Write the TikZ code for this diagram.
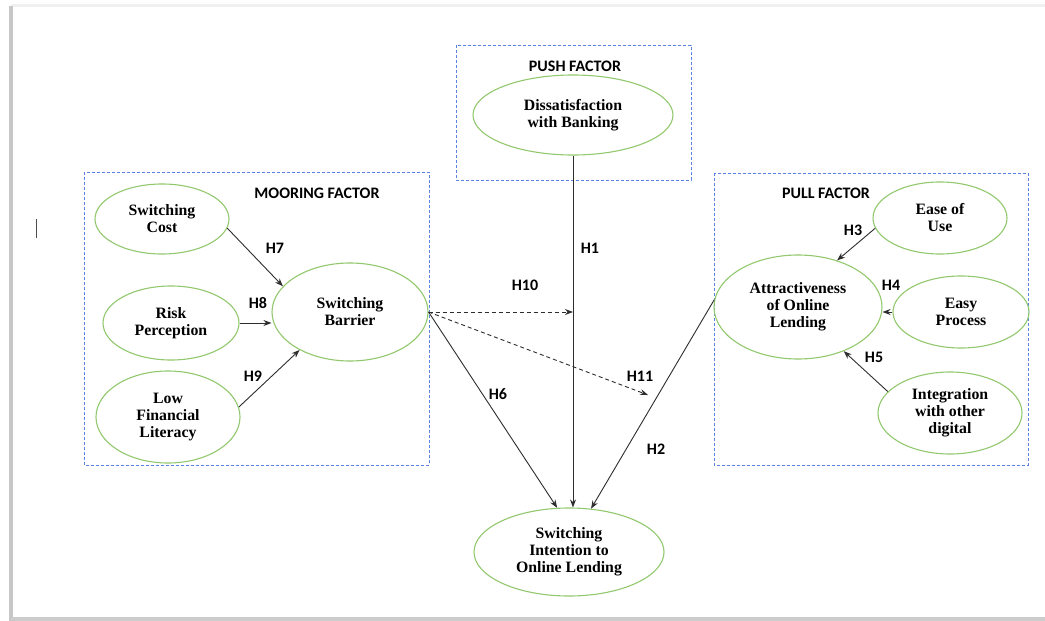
\documentclass[tikz,border=0pt]{standalone}
\usepackage{fontspec}
\setmainfont{Liberation Serif}
\newfontfamily\labfont{Carlito}
\usetikzlibrary{shapes.geometric,arrows.meta}
\definecolor{elgreen}{RGB}{146,200,110}
\definecolor{boxblue}{RGB}{90,130,225}
\definecolor{linegray}{RGB}{45,45,45}
\begin{document}
\begin{tikzpicture}[x=1pt,y=-1pt,
  construct/.style={ellipse,draw=elgreen,line width=1.1pt,inner sep=0pt,align=center,
    font=\fontsize{15.8}{17}\selectfont\bfseries},
  groupbox/.style={draw=boxblue,line width=0.8pt,dash pattern=on 3pt off 2pt},
  grouptitle/.style={font=\labfont\fontsize{16}{18}\selectfont\bfseries},
  hyp/.style={font=\labfont\fontsize{16}{18}\selectfont\bfseries,inner sep=1pt},
  link/.style={draw=linegray,line width=0.9pt,-{Stealth[length=8pt,width=6pt]}},
  dlink/.style={link,dash pattern=on 4pt off 3pt}]
\useasboundingbox (0,0) rectangle (1045,621);
\fill[white] (0,0) rectangle (1045,621);
% page shadow
\fill[black!6] (11,4) rectangle (1045,7);
\fill[black!22] (9,6) rectangle (13,621);
\fill[black!20] (11,617) rectangle (1045,621);
% cursor mark
\draw[black!70,line width=1pt] (36,219) -- (36,238);

% group boxes
\draw[groupbox] (84,172) rectangle (429,465);
\draw[groupbox] (456,45) rectangle (691,180);
\draw[groupbox] (714,173) rectangle (1028,465);
\node[grouptitle] (tmoor) at (317,193) {MOORING FACTOR};
\node[grouptitle] (tpush) at (575,66) {PUSH FACTOR};
\node[grouptitle] (tpull) at (826,193) {PULL FACTOR};

% constructs
\node[construct,minimum width=134pt,minimum height=70pt] (sc) at (162,219) {Switching\\Cost};
\node[construct,minimum width=136pt,minimum height=74pt] (rp) at (171,323) {Risk\\Perception};
\node[construct,minimum width=144pt,minimum height=92pt] (lfl) at (168,417) {Low\\Financial\\Literacy};
\node[construct,minimum width=156pt,minimum height=98pt] (sb) at (350,312) {Switching\\Barrier};
\node[construct,minimum width=200pt,minimum height=80pt] (dis) at (573,115) {Dissatisfaction\\with Banking};
\node[construct,minimum width=134pt,minimum height=72pt] (eou) at (940,218) {Ease of\\Use};
\node[construct,minimum width=168pt,minimum height=104pt] (attr) at (798,307) {Attractiveness\\of Online\\Lending};
\node[construct,minimum width=136pt,minimum height=72pt] (ep) at (961,312) {Easy\\Process};
\node[construct,minimum width=144pt,minimum height=82pt] (integ) at (950,413) {Integration\\with other\\digital};
\node[construct,minimum width=190pt,minimum height=88pt] (si) at (569,552) {Switching\\Intention to\\Online Lending};

% free ends
\coordinate (h10end) at (dis.south |- sb.east);
\coordinate (h11end) at (648,395);

% connectors
\draw[link] (sc.-8) -- (sb.159);
\draw[link] (rp.east) -- (rp.east -| sb.west);
\draw[link] (lfl.8) -- (sb.217);
\draw[link] (eou.189) -- (attr.50);
\draw[link] (ep.west) -- (ep.west -| attr.east);
\draw[link] (integ.161) -- (attr.-44);
\draw[link] (dis.south) -- (dis.south |- si.north);
\draw[dlink] (sb.east) -- (h10end);
\draw[dlink] (sb.east) -- (h11end);
\draw[link] (sb.east) -- (si.105);
\draw[link] (attr.175) -- (si.63);

% hypothesis labels
\node[hyp] (l7) at (275,248) {H7};
\node[hyp] (l8) at (258,303) {H8};
\node[hyp] (l9) at (253,376) {H9};
\node[hyp] (l3) at (853,230) {H3};
\node[hyp] (l4) at (891,285) {H4};
\node[hyp] (l5) at (874,357) {H5};
\node[hyp] (l1) at (590,248) {H1};
\node[hyp] (l10) at (525,285) {H10};
\node[hyp] (l11) at (640,376) {H11};
\node[hyp] (l6) at (498,394) {H6};
\node[hyp] (l2) at (656,449) {H2};
\end{tikzpicture}
\end{document}
